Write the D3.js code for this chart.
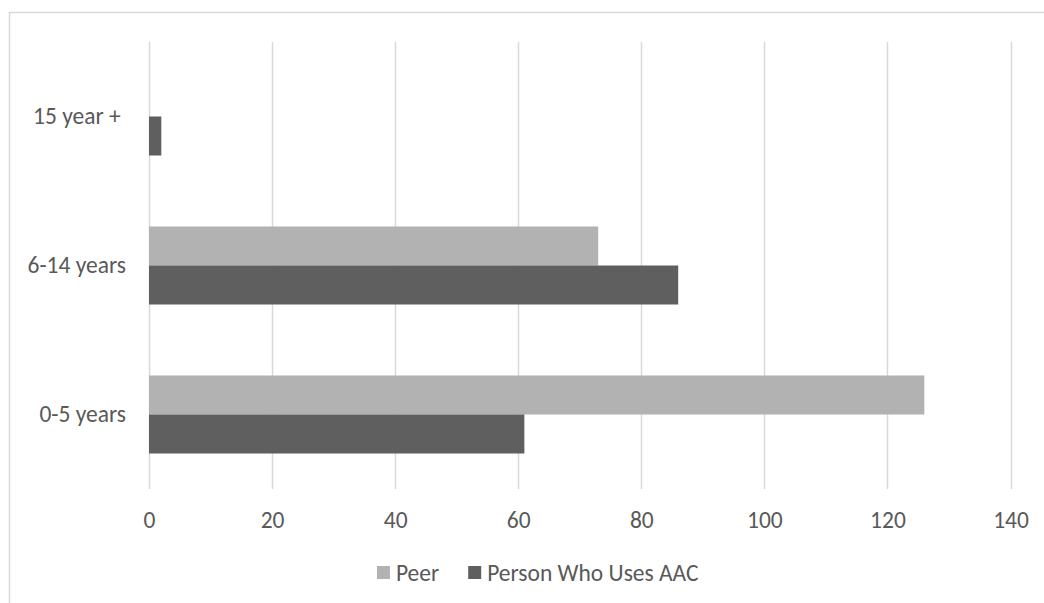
<!DOCTYPE html>
<html><head><meta charset="utf-8">
<script src="https://cdn.jsdelivr.net/npm/d3@7"></script>
<style>
html,body{margin:0;padding:0;background:#fff;overflow:hidden;}
text{font-family:Carlito, Calibri, Lato, "Liberation Sans", sans-serif;fill:#595959;}
</style></head>
<body>
<svg id="chart" width="1044" height="603"></svg>
<script>
const categories = ["15 year +", "6-14 years", "0-5 years"];
const seriesNames = ["Peer", "Person Who Uses AAC"];
const peerValues = [0, 73, 126];
const aacValues = [2, 86, 61];
const xTicks = [0, 20, 40, 60, 80, 100, 120, 140];
const colors = ["#b2b2b2", "#5f5f5f"];

const svg = d3.select("#chart");
const fontSize = 23.5;

// outer frame
svg.append("rect").attr("x", 9.5).attr("y", 12.5).attr("width", 1200).attr("height", 800)
  .attr("fill", "none").attr("stroke", "#d9d9d9").attr("stroke-width", 1.5);

const x = d3.scaleLinear().domain([0, 140]).range([149, 1010.5]);
const y = d3.scaleBand().domain(categories).range([42, 489]).paddingInner(0.4765).paddingOuter(0.4765/2);
const y1 = d3.scaleBand().domain(seriesNames).range([0, y.bandwidth()]);

// gridlines
svg.append("g").selectAll("line").data(xTicks).join("line")
  .attr("x1", d => Math.round(x(d)) + 0.5).attr("x2", d => Math.round(x(d)) + 0.5)
  .attr("y1", 42).attr("y2", 489)
  .attr("stroke", "#d9d9d9").attr("stroke-width", 1.5);

// x axis labels
const xAxis = d3.axisBottom(x).tickValues(xTicks).tickSize(0).tickPadding(0);
const gx = svg.append("g").attr("transform", "translate(0,520)").call(xAxis);
gx.select(".domain").remove();
gx.attr("font-size", null).attr("font-family", null);
gx.selectAll("text").attr("dy", "0.35em").attr("y", 0)
  .style("font-size", fontSize + "px").attr("fill", "#595959");

// y labels
const yAxis = d3.axisLeft(y).tickSize(0).tickPadding(0);
const gy = svg.append("g").attr("transform", "translate(126,0)").call(yAxis);
gy.select(".domain").remove();
gy.attr("font-size", null).attr("font-family", null);
gy.selectAll("text").style("font-size", fontSize + "px").attr("fill", "#595959")
  .style("white-space", "pre").text(d => d === "15 year +" ? d + " " : d);

// bars
const rows = categories.map((c, i) => ({cat: c, vals: [peerValues[i], aacValues[i]]}));
const groups = svg.append("g").selectAll("g").data(rows).join("g")
  .attr("transform", d => `translate(0,${y(d.cat)})`);
groups.selectAll("rect").data(d => d.vals.map((v, j) => ({v, s: seriesNames[j], j})).filter(e => e.v > 0))
  .join("rect")
  .attr("x", x(0))
  .attr("y", d => y1(d.s))
  .attr("width", d => x(d.v) - x(0))
  .attr("height", y1.bandwidth())
  .attr("fill", d => colors[d.j]);

// legend
const legend = svg.append("g").attr("transform", "translate(0,573)");
const items = legend.selectAll("g").data(seriesNames).join("g");
items.append("rect").attr("width", 13).attr("height", 13).attr("y", -7).attr("fill", (d, i) => colors[i]);
items.append("text").attr("x", 19).attr("dy", "0.35em").style("font-size", fontSize + "px").text(d => d);
let widths = [];
items.each(function() { widths.push(this.getBBox().width); });
const gap = 29;
const total = widths.reduce((a, b) => a + b, 0) + gap * (widths.length - 1);
let cx = 538 - total / 2;
items.attr("transform", (d, i) => { const t = `translate(${cx},0)`; cx += widths[i] + gap; return t; });
</script>
</body></html>
